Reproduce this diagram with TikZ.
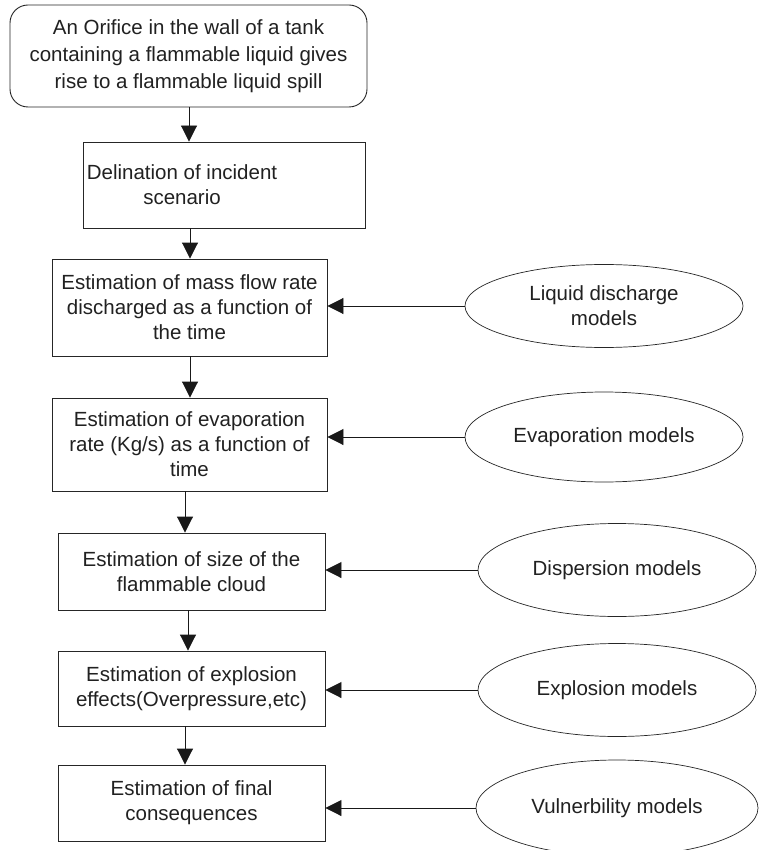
\documentclass[tikz,border=0pt]{standalone}
\usepackage{fontspec}
\setmainfont{Liberation Sans}
\usetikzlibrary{shapes.geometric,arrows.meta}
\begin{document}
\begin{tikzpicture}[x=1pt,y=-1pt,
  every node/.style={font=\fontsize{20.5}{25}\selectfont, text=black!87, align=center},
  stepbox/.style={draw=black!85, line width=0.9pt, inner sep=0pt},
  model/.style={ellipse, draw=black!85, line width=0.7pt, inner sep=0pt},
  arr/.style={draw=black!90, line width=0.9pt, -{Triangle[length=16pt,width=16pt]}}]
\useasboundingbox (0,0) rectangle (759,850);
\clip (0,0) rectangle (759,850);
\fill[white] (0,0) rectangle (759,850);

% main chain of steps
\node[stepbox, rounded corners=18pt, minimum width=357pt, minimum height=102pt,
      font=\fontsize{20.5}{27}\selectfont] (s1) at (188.5,56)
  {An Orifice in the wall of a tank\\containing a flammable liquid gives\\rise to a flammable liquid spill};
\node[stepbox, minimum width=282pt, minimum height=86pt] (s2) at (224,185) {};
\node (s2t) at (182,185) {Delination of incident\\scenario};
\node[stepbox, minimum width=275pt, minimum height=97pt] (s3) at (189.5,307.5)
  {Estimation of mass flow rate\\discharged as a function of\\the time};
\node[stepbox, minimum width=275pt, minimum height=93pt] (s4) at (189.5,444.5)
  {Estimation of evaporation\\rate (Kg/s) as a function of\\time};
\node[stepbox, minimum width=267pt, minimum height=77pt] (s5) at (191.5,571.5)
  {Estimation of size of the\\flammable cloud};
\node[stepbox, minimum width=267pt, minimum height=75pt] (s6) at (191.5,688.5)
  {Estimation of explosion\\effects(Overpressure,etc)};
\node[stepbox, minimum width=267pt, minimum height=76pt] (s7) at (191.5,803)
  {Estimation of final\\consequences};

% model inputs
\node[model, minimum width=278pt, minimum height=83pt] (m1) at (604,306) {Liquid discharge\\models};
\node[model, minimum width=278pt, minimum height=90pt] (m2) at (604,437) {Evaporation models};
\node[model, minimum width=278pt, minimum height=93pt] (m3) at (617,570) {Dispersion models};
\node[model, minimum width=278pt, minimum height=93pt] (m4) at (617,690) {Explosion models};
\node[model, minimum width=282pt, minimum height=96pt] (m5) at (617,808) {Vulnerbility models};

% vertical flow
\draw[arr] (s1.south -| 189,0) -- (s2.north -| 189,0);
\draw[arr] (s2.south -| 190,0) -- (s3.north -| 190,0);
\draw[arr] (s3.south -| 190,0) -- (s4.north -| 190,0);
\draw[arr] (s4.south -| 185,0) -- (s5.north -| 185,0);
\draw[arr] (s5.south -| 188,0) -- (s6.north -| 188,0);
\draw[arr] (s6.south -| 185,0) -- (s7.north -| 185,0);

% model arrows
\draw[arr] (m1.west) -- (s3.east |- m1.west);
\draw[arr] (m2.west) -- (s4.east |- m2.west);
\draw[arr] (m3.west) -- (s5.east |- m3.west);
\draw[arr] (m4.west) -- (s6.east |- m4.west);
\draw[arr] (m5.west) -- (s7.east |- m5.west);
\end{tikzpicture}
\end{document}
